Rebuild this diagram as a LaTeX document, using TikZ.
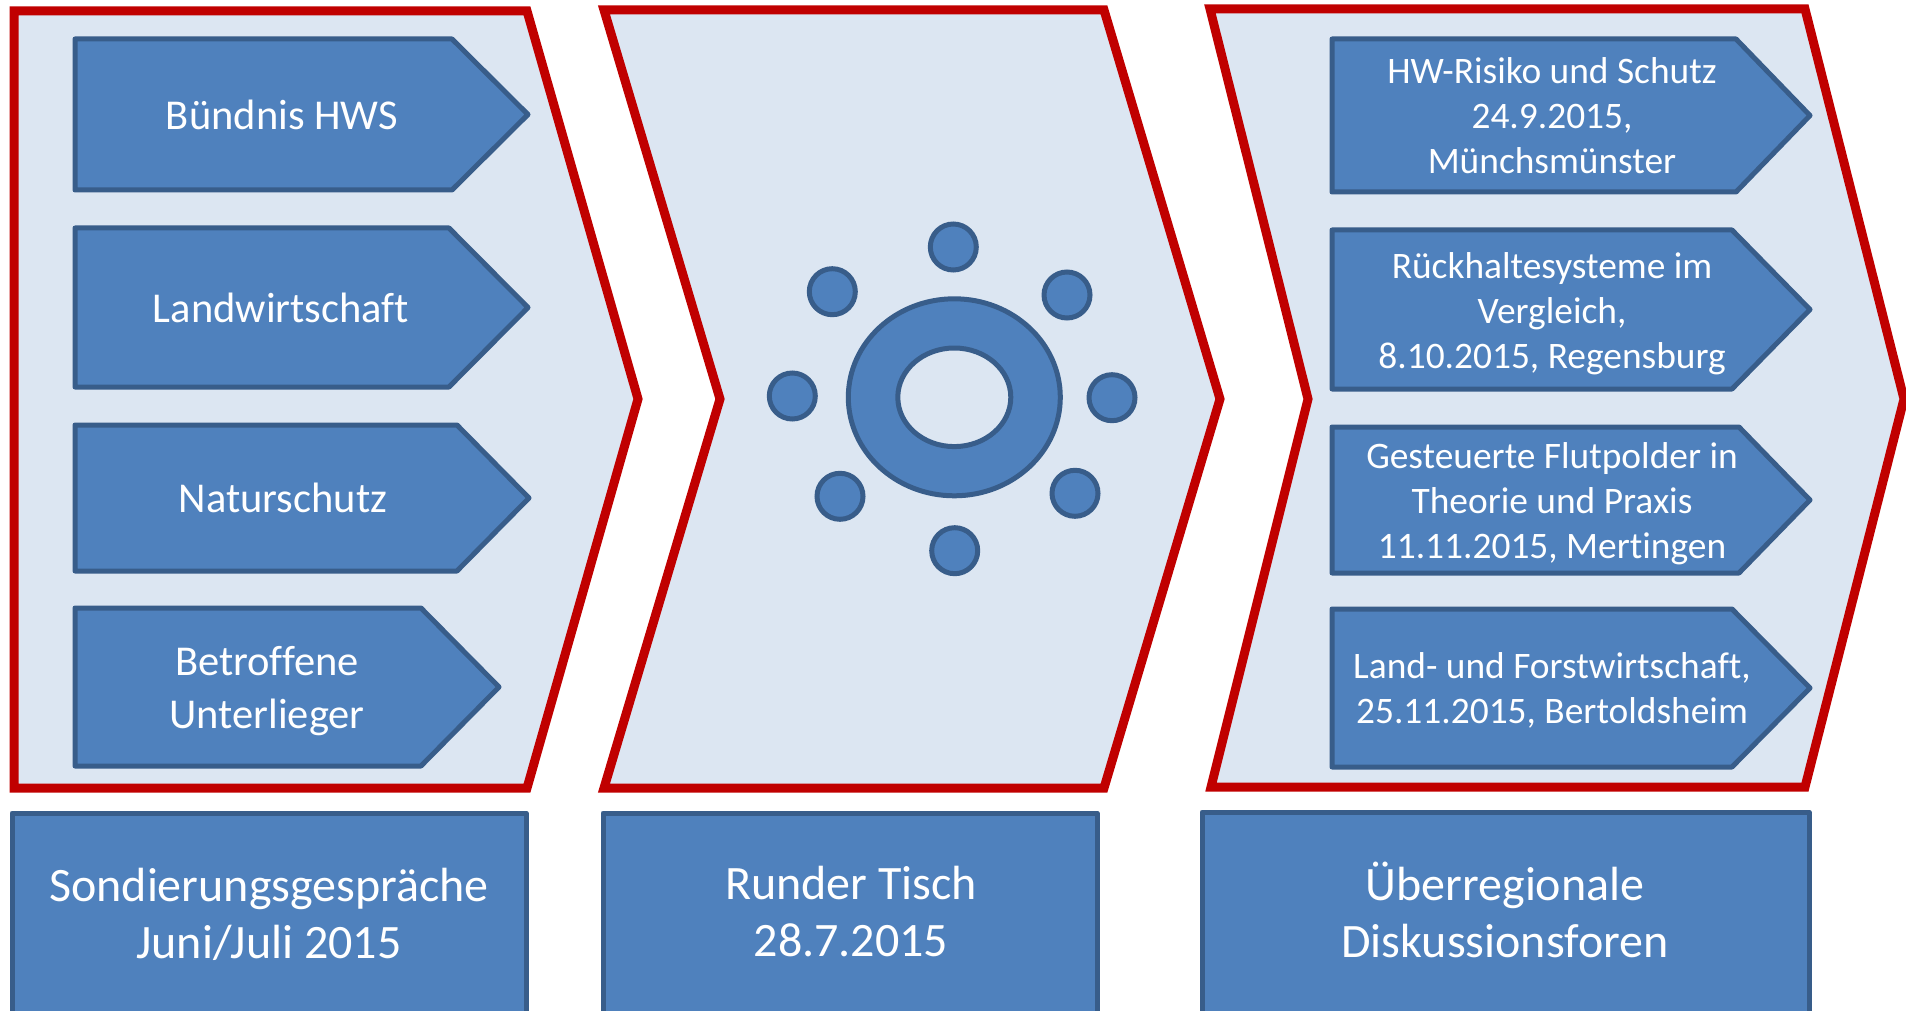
\documentclass[tikz,border=0pt]{standalone}
\usepackage{fontspec}
\setmainfont[Ligatures=NoCommon]{Carlito}
\definecolor{panelfill}{HTML}{DCE6F2}
\definecolor{boxfill}{HTML}{4F81BD}
\definecolor{boxline}{HTML}{385D8A}
\definecolor{panelred}{HTML}{C00000}
\tikzset{
  panel/.style={draw=panelred,fill=panelfill,line width=9pt,miter limit=10},
  shape box/.style={draw=boxline,fill=boxfill,line width=5pt,line join=round},
  dot/.style={draw=boxline,fill=boxfill,line width=5pt,circle,minimum size=46pt,inner sep=0pt},
  lab/.style={text=white,align=center,inner sep=0pt},
  sm/.style={lab,font=\fontsize{37.4}{45}\selectfont},
  md/.style={lab,font=\fontsize{42.5}{52.5}\selectfont},
  lg/.style={lab,font=\fontsize{48}{57}\selectfont},
}
\newcommand{\pentabox}[5]{% left top bottom shoulder tip
  \path[shape box] (#1,#2) -- (#4,#2) -- (#5,{(#2+#3)/2}) -- (#4,#3) -- (#1,#3) -- cycle;
}
\begin{document}
\begin{tikzpicture}[x=1pt,y=-1pt]
\useasboundingbox (0,0) rectangle (1906,1011);
% panels
\path[panel] (14,11) -- (527,11) -- (638,399) -- (527,788) -- (14,788) -- cycle;
\path[panel] (604,10) -- (1104,10) -- (1220,399) -- (1104,788) -- (604,788) -- (720,399) -- cycle;
\path[panel] (1210,9) -- (1805,9) -- (1904,399) -- (1805,787) -- (1211,787) -- (1308,399) -- cycle;
% left arrows
\pentabox{75}{39}{190}{452}{528}
\pentabox{75}{228}{387}{449}{528}
\pentabox{75}{425}{571}{457}{529}
\pentabox{75}{608}{766}{421}{499}
% right arrows
\pentabox{1332}{39}{192}{1736}{1810}
\pentabox{1332}{230}{389}{1732}{1810}
\pentabox{1332}{427}{573}{1739}{1810}
\pentabox{1332}{609}{767}{1732}{1810}
% labels left
\node[md] (n1) at (282,115) {Bündnis HWS};
\node[md] (n2) at (281,308) {Landwirtschaft};
\node[md] (n3) at (283,498) {Naturschutz};
\node[md] (n4) at (267,691) {Betroffene\\Unterlieger};
% labels right
\node[sm] (r1) at (1552,116) {HW-Risiko und Schutz\\24.9.2015,\\Münchsmünster};
\node[sm] (r2) at (1552,314) {Rückhaltesysteme im\\Vergleich,\\8.10.2015, Regensburg};
\node[sm] (r3) at (1552,504) {Gesteuerte Flutpolder in\\Theorie und Praxis\\11.11.2015, Mertingen};
\node[sm] (r4) at (1552,690) {Land- und Forstwirtschaft,\\25.11.2015, Bertoldsheim};
% ring and dots
\path[shape box,even odd rule] (954.3,397.3) ellipse [x radius=106,y radius=98.5] (954.3,397.3) ellipse [x radius=56.5,y radius=49.3];
\node[dot] (d1) at (953.3,247) {};
\node[dot] (d2) at (832.3,291.7) {};
\node[dot] (d3) at (1067,295) {};
\node[dot] (d4) at (792.3,396) {};
\node[dot] (d5) at (1112,397.7) {};
\node[dot] (d6) at (840,496.3) {};
\node[dot] (d7) at (1075,493.3) {};
\node[dot] (d8) at (954.7,550.7) {};
% bottom boxes
\path[shape box] (12,813) rectangle (526,1020);
\path[shape box] (603,813) rectangle (1097,1020);
\path[shape box] (1202,812) rectangle (1809,1020);
\node[lg] (b1) at (269,914) {Sondierungsgespräche\\Juni/Juli 2015};
\node[lg] (b2) at (851,912) {Runder Tisch\\28.7.2015};
\node[lg] (b3) at (1505,910) {Überregionale\\Diskussionsforen};
\end{tikzpicture}
\end{document}
